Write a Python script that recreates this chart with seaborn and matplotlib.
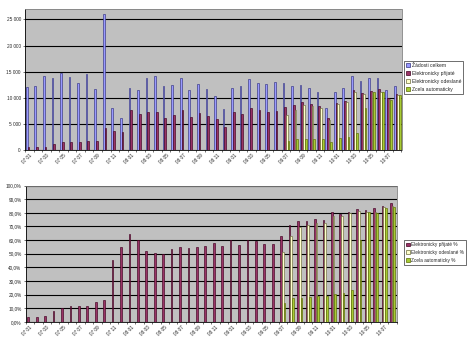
import numpy as np
import pandas as pd
import matplotlib
matplotlib.use("Agg")
import matplotlib.pyplot as plt
from matplotlib.patches import Patch
from matplotlib.ticker import FuncFormatter
import seaborn as sns

# Monthly categories, January 2007 - August 2010
years = ["07", "08", "09", "10"]
months = [f"{y} {m:02d}" for y in years for m in range(1, 13)][:44]

# Counts per month
requests_total = [
    12000, 12200, 14250, 13750, 14770, 13900, 12800, 14500, 11640, 26000, 8000, 6140,
    11830, 11450, 13750, 14130, 12280, 12400, 13870, 11440, 12660, 11700, 10290, 7800,
    11960, 12210, 13550, 12790, 12720, 13040, 12790, 12210, 12400, 11830, 11060, 8100,
    11120, 11830, 14130, 13170, 13750, 13880, 11570, 12340,
]
received_e = [
    480, 480, 630, 1070, 1520, 1600, 1500, 1700, 1710, 4300, 3650, 3400,
    7600, 6900, 7200, 7200, 6140, 6650, 7600, 6250, 7050, 6560, 5930, 4380,
    7200, 6900, 8120, 7580, 7280, 7500, 8250, 8630, 9180, 8770, 8360, 6050,
    8950, 9360, 11400, 10900, 11330, 11600, 9900, 10800,
]
# Reported only from 09 07 onwards
sent_e = [6650, 7740, 8630, 8380, 8100, 5750, 8760, 9140, 11190, 10720, 11120, 11160, 9730, 10500]
fully_auto = [1800, 2160, 2170, 2160, 2140, 1600, 2220, 2550, 3350, 7950, 11100, 11100, 9650, 10440]

# Shares of all requests, in percent
received_pct = [
    3.9, 3.9, 4.4, 7.8, 10.3, 11.5, 11.7, 11.7, 14.7, 16.4, 45.5, 55.3,
    64.3, 59.9, 52.1, 50.4, 49.9, 53.5, 54.8, 54.3, 55.3, 56.0, 57.7, 55.7,
    59.9, 56.5, 59.9, 59.2, 57.2, 57.5, 63.3, 70.7, 74.3, 74.3, 75.6, 74.6,
    80.4, 79.2, 80.4, 82.9, 82.2, 83.4, 85.1, 87.0,
]
sent_pct = [51.0, 63.3, 69.9, 70.7, 72.6, 72.6, 77.8, 77.3, 80.0, 81.4, 80.9, 80.4, 84.1, 85.1]
auto_pct = [13.7, 17.6, 17.6, 18.3, 19.1, 19.3, 20.3, 21.0, 23.5, 60.1, 80.4, 80.0, 83.4, 84.6]

top_labels = ["Žádosti celkem", "Elektronicky přijaté", "Elektronicky odeslané", "Zcela automaticky"]
bottom_labels = ["Elektronicky přijaté %", "Elektronicky odeslané %", "Zcela automaticky %"]


def pad(values):
    return [np.nan] * (len(months) - len(values)) + list(values)


def long_frame(labels, series):
    frames = [pd.DataFrame({"month": months, "series": lab, "value": vals})
              for lab, vals in zip(labels, series)]
    return pd.concat(frames, ignore_index=True).dropna()


top_df = long_frame(top_labels, [requests_total, received_e, pad(sent_e), pad(fully_auto)])
bottom_df = long_frame(bottom_labels, [received_pct, pad(sent_pct), pad(auto_pct)])

face = {"total": "#9999FF", "recv": "#993366", "sent": "#FFFFCC", "auto": "#A6CC33"}
edge = {"total": "#333380", "recv": "#40001f", "sent": "#6b6b3a", "auto": "#5c6b00"}
top_keys = ["total", "recv", "sent", "auto"]
bottom_keys = ["recv", "sent", "auto"]

sns.set_theme(style="white")
plt.rcParams["font.family"] = ["Liberation Sans", "DejaVu Sans"]

fig = plt.figure(figsize=(4.68, 3.47), dpi=100)
ax1 = fig.add_axes([25 / 468, 1 - 150 / 347, 376.5 / 468, 141 / 347])
ax2 = fig.add_axes([25.7 / 468, 1 - 322 / 347, 371 / 468, 136.5 / 347])


def draw(ax, df, labels, keys, width):
    sns.barplot(data=df, x="month", y="value", hue="series", order=months,
                hue_order=labels, palette=[face[k] for k in keys], width=width,
                saturation=1, errorbar=None, legend=False, ax=ax)
    for cont, k in zip(ax.containers, keys):
        for bar in cont:
            bar.set_edgecolor(edge[k])
            bar.set_linewidth(0.45)
    ax.set_facecolor("#C0C0C0")
    ax.set_xlim(-0.5, len(months) - 0.5)
    ax.set_xlabel("")
    ax.set_ylabel("")
    ax.set_axisbelow(True)
    ax.yaxis.grid(True, color="black", linewidth=0.8)
    ax.xaxis.grid(False)
    for side in ["top", "right"]:
        ax.spines[side].set_color("#808080")
        ax.spines[side].set_linewidth(0.6)
    for side in ["left", "bottom"]:
        ax.spines[side].set_color("black")
        ax.spines[side].set_linewidth(0.6)
    ax.set_xticks(range(0, len(months), 2))
    ax.set_xticklabels(months[::2], rotation=45, ha="right", va="top",
                       rotation_mode="anchor", fontsize=3.4)
    ax.set_xticks(np.arange(-0.5, len(months), 1), minor=True)
    ax.tick_params(axis="x", which="major", length=0, pad=2)
    ax.tick_params(axis="x", which="minor", length=1.5, width=0.4, color="black", bottom=True)
    ax.tick_params(axis="y", length=1.5, width=0.4, color="black", left=True,
                   labelsize=3.4, pad=1.5)
    handles = [Patch(facecolor=face[k], edgecolor=edge[k], linewidth=0.5) for k in keys]
    return handles


h1 = draw(ax1, top_df, top_labels, top_keys, 0.8)
ax1.set_ylim(0, 27000)
ax1.set_yticks(range(0, 25001, 5000))
ax1.yaxis.set_major_formatter(FuncFormatter(lambda v, _: f"{v:,.0f}".replace(",", " ")))

h2 = draw(ax2, bottom_df, bottom_labels, bottom_keys, 0.6)
ax2.set_ylim(0, 100)
ax2.set_yticks(range(0, 101, 10))
ax2.yaxis.set_major_formatter(FuncFormatter(lambda v, _: f"{v:.1f}%".replace(".", ",")))

legend_style = dict(loc="upper left", frameon=True, fancybox=False,
                    handlelength=0.8, handleheight=0.8, handletextpad=0.3,
                    borderpad=0.4, labelspacing=0.6, borderaxespad=0)
lg1 = ax1.legend(h1, top_labels, bbox_to_anchor=(1.007, 0.631), fontsize=3.6, **legend_style)
lg2 = ax2.legend(h2, bottom_labels, bbox_to_anchor=(1.02, 0.60), fontsize=3.4, **legend_style)
for lg in (lg1, lg2):
    lg.get_frame().set_edgecolor("black")
    lg.get_frame().set_linewidth(0.5)

fig.savefig("out.png", dpi=100, facecolor="white")
